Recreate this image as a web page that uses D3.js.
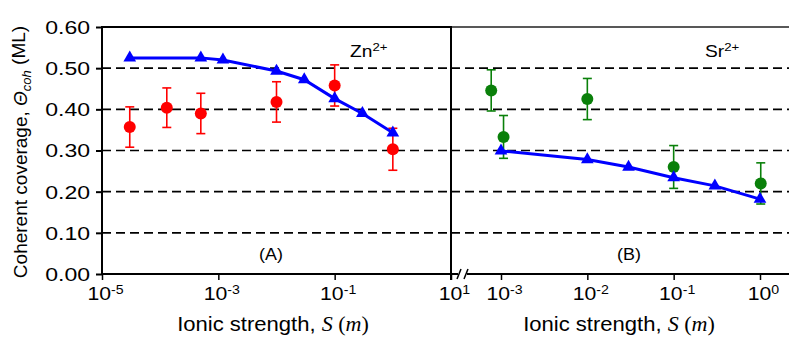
<!DOCTYPE html>
<html>
<head>
<meta charset="utf-8">
<script src="https://cdn.jsdelivr.net/npm/d3@7"></script>
<style>
  body { margin: 0; background: #fff; }
  svg text { font-family: "Liberation Sans", Arial, sans-serif; fill: #000; }
</style>
</head>
<body>
<div id="chart"></div>
<script>
// Zn2+ panel (A)
var znModelS   = [3e-5, 5e-4, 1.2e-3, 1e-2, 3e-2, 1e-1, 3e-1, 1];
var znModelCov = [0.525, 0.525, 0.52, 0.493, 0.472, 0.426, 0.39, 0.343];
var znExpS     = [3e-5, 1.3e-4, 5e-4, 1e-2, 1e-1, 1];
var znExpCov   = [0.357, 0.404, 0.39, 0.418, 0.458, 0.303];
var znExpErr   = [0.049, 0.048, 0.049, 0.049, 0.05, 0.051];

// Sr2+ panel (B)
var srModelS   = [1e-3, 1e-2, 3e-2, 1e-1, 3e-1, 1];
var srModelCov = [0.299, 0.278, 0.26, 0.234, 0.214, 0.182];
var srExpS     = [7.7e-4, 1.07e-3, 1e-2, 1e-1, 1.02];
var srExpCov   = [0.446, 0.333, 0.425, 0.26, 0.22];
var srExpErr   = [0.05, 0.052, 0.05, 0.052, 0.05];

var yTicks = [0, 0.1, 0.2, 0.3, 0.4, 0.5, 0.6];
var leftTicks = [1e-5, 1e-3, 1e-1, 1e1];
var rightTicks = [1e-3, 1e-2, 1e-1, 1];

var width = 789, height = 341;
var svg = d3.select("#chart").append("svg")
    .attr("width", width)
    .attr("height", height);

var y = d3.scaleLinear().domain([0, 0.6]).range([274, 27]);
var xA = d3.scaleLog().domain([1e-5, 1e1]).range([102, 451]);
var xB = d3.scaleLog().domain([1e-3, 1]).range([501, 760]);  // panel runs 451..789

var axL = 102, mid = 451, axR = 789, yTop = y(0.6), yBot = y(0);

// text is a bit wide in the original figure
function label(x, yy, sx, size) {
  return svg.append("text")
    .attr("transform", "translate(" + x + "," + yy + ") scale(" + sx + ",1)")
    .style("font-size", size + "px");
}

// gridlines
var inner = yTicks.filter(function(d) { return d > 0 && d < 0.6; });
[[axL, mid], [mid, axR]].forEach(function(span) {
  svg.append("g").selectAll("line").data(inner).enter().append("line")
    .attr("x1", span[0]).attr("x2", span[1])
    .attr("y1", function(d) { return y(d); }).attr("y2", function(d) { return y(d); })
    .attr("stroke", "#000").attr("stroke-width", 1.7).attr("stroke-dasharray", "9,5");
});

// frame
function seg(x1, y1, x2, y2, w) {
  svg.append("line").attr("x1", x1).attr("y1", y1).attr("x2", x2).attr("y2", y2)
    .attr("stroke", "#000").attr("stroke-width", w);
}
svg.append("rect").attr("x", axL - 1).attr("y", yTop - 1)
  .attr("width", mid - axL + 1).attr("height", 2).attr("fill", "#000");
svg.append("rect").attr("x", mid).attr("y", yTop - 0.75)
  .attr("width", axR - mid).attr("height", 1.5).attr("fill", "#222");
seg(axL, yTop - 1, axL, yBot + 1, 2);
seg(mid, yTop - 1, mid, yBot + 6, 2);
seg(axL - 1, yBot, axR, yBot, 2);
// axis break
svg.append("rect").attr("x", 458).attr("y", yBot - 2).attr("width", 9).attr("height", 4).attr("fill", "#fff");
seg(457, yBot + 5, 461, yBot - 5, 1.5);
seg(464, yBot + 5, 468, yBot - 5, 1.5);

// y axis ticks + labels
var yAxis = d3.axisLeft(y).tickValues(yTicks).tickSize(6)
    .tickFormat(d3.format(".2f"));
var gy = svg.append("g").attr("transform", "translate(" + axL + ",0)").call(yAxis);
gy.select(".domain").remove();
gy.selectAll(".tick line").attr("stroke", "#000").attr("stroke-width", 2);
gy.selectAll(".tick text").attr("x", 0).attr("dy", "0.36em")
    .attr("transform", "translate(-12,0) scale(1.28,1)")
    .style("font-size", "18px").style("font-family", "Liberation Sans, Arial, sans-serif");

// x axes
function powLabel(sel) {
  sel.each(function(d) {
    var t = d3.select(this);
    var e = Math.round(Math.log10(d));
    t.text("");
    t.append("tspan").text("10");
    t.append("tspan").attr("dy", "-0.5em").style("font-size", "12px").text(e);
  });
}
var gxA = svg.append("g").attr("transform", "translate(0," + yBot + ")")
    .call(d3.axisBottom(xA).tickValues(leftTicks).tickSize(6));
var gxB = svg.append("g").attr("transform", "translate(0," + yBot + ")")
    .call(d3.axisBottom(xB).tickValues(rightTicks).tickSize(6));
[gxA, gxB].forEach(function(g) {
  g.select(".domain").remove();
  g.selectAll(".tick line").attr("stroke", "#000").attr("stroke-width", 1.5);
  g.selectAll(".tick text").attr("y", 0).attr("dy", "0.71em")
    .attr("transform", "translate(3,13) scale(1.18,1)")
    .style("font-size", "18px").style("font-family", "Liberation Sans, Arial, sans-serif")
    .call(powLabel);
});

// axis titles
function xTitle(cx) {
  var t = label(cx, 331, 1.05, 21).attr("text-anchor", "middle");
  t.append("tspan").text("Ionic strength, ");
  t.append("tspan").style("font-family", "Liberation Serif, serif").style("font-style", "italic").text("S");
  t.append("tspan").style("font-family", "Liberation Serif, serif").text(" (");
  t.append("tspan").style("font-family", "Liberation Serif, serif").style("font-style", "italic").text("m");
  t.append("tspan").style("font-family", "Liberation Serif, serif").text(")");
}
xTitle(273);
xTitle(619);

var yt = svg.append("text").attr("transform", "translate(27,152) rotate(-90)")
    .attr("text-anchor", "middle").style("font-size", "19px");
yt.append("tspan").text("Coherent coverage,  ");
yt.append("tspan").style("font-style", "italic").text("\u0398");
yt.append("tspan").style("font-style", "italic").style("font-size", "13px").attr("dy", "0.3em").text("coh");
yt.append("tspan").attr("dy", "-0.3em").text(" (ML)");

// panel labels
function ion(x, base) {
  var t = label(x, 57, 1.2, 16);
  t.append("tspan").text(base);
  t.append("tspan").attr("dy", "-0.55em").style("font-size", "11px").text("2+");
}
ion(350, "Zn");
ion(705, "Sr");
label(271, 260, 1.12, 16).attr("text-anchor", "middle").text("(A)");
label(629, 260, 1.12, 16).attr("text-anchor", "middle").text("(B)");

// data series
function errorPoints(S, cov, err, x, color) {
  var data = S.map(function(s, i) { return { s: s, v: cov[i], e: err[i] }; });
  var g = svg.append("g").attr("stroke", color).attr("stroke-width", 1.6);
  g.selectAll(".eb").data(data).enter().append("line")
    .attr("x1", function(d) { return x(d.s); }).attr("x2", function(d) { return x(d.s); })
    .attr("y1", function(d) { return y(d.v + d.e); }).attr("y2", function(d) { return y(d.v - d.e); });
  g.selectAll(".capT").data(data).enter().append("line")
    .attr("x1", function(d) { return x(d.s) - 4.5; }).attr("x2", function(d) { return x(d.s) + 4.5; })
    .attr("y1", function(d) { return y(d.v + d.e); }).attr("y2", function(d) { return y(d.v + d.e); });
  g.selectAll(".capB").data(data).enter().append("line")
    .attr("x1", function(d) { return x(d.s) - 4.5; }).attr("x2", function(d) { return x(d.s) + 4.5; })
    .attr("y1", function(d) { return y(d.v - d.e); }).attr("y2", function(d) { return y(d.v - d.e); });
  svg.append("g").selectAll("circle").data(data).enter().append("circle")
    .attr("cx", function(d) { return x(d.s); }).attr("cy", function(d) { return y(d.v); })
    .attr("r", 6).attr("fill", color);
}

function modelLine(S, cov, x) {
  var data = S.map(function(s, i) { return { s: s, v: cov[i] }; });
  var line = d3.line().x(function(d) { return x(d.s); }).y(function(d) { return y(d.v); });
  svg.append("path").datum(data).attr("d", line)
    .attr("fill", "none").attr("stroke", "#0000ff").attr("stroke-width", 3);
  svg.append("g").selectAll("path").data(data).enter().append("path")
    .attr("d", d3.symbol(d3.symbolTriangle, 70))
    .attr("transform", function(d) { return "translate(" + x(d.s) + "," + y(d.v) + ")"; })
    .attr("fill", "#0000ff");
}

errorPoints(znExpS, znExpCov, znExpErr, xA, "#ff0000");
modelLine(znModelS, znModelCov, xA);
errorPoints(srExpS, srExpCov, srExpErr, xB, "#0a800a");
modelLine(srModelS, srModelCov, xB);
</script>
</body>
</html>
